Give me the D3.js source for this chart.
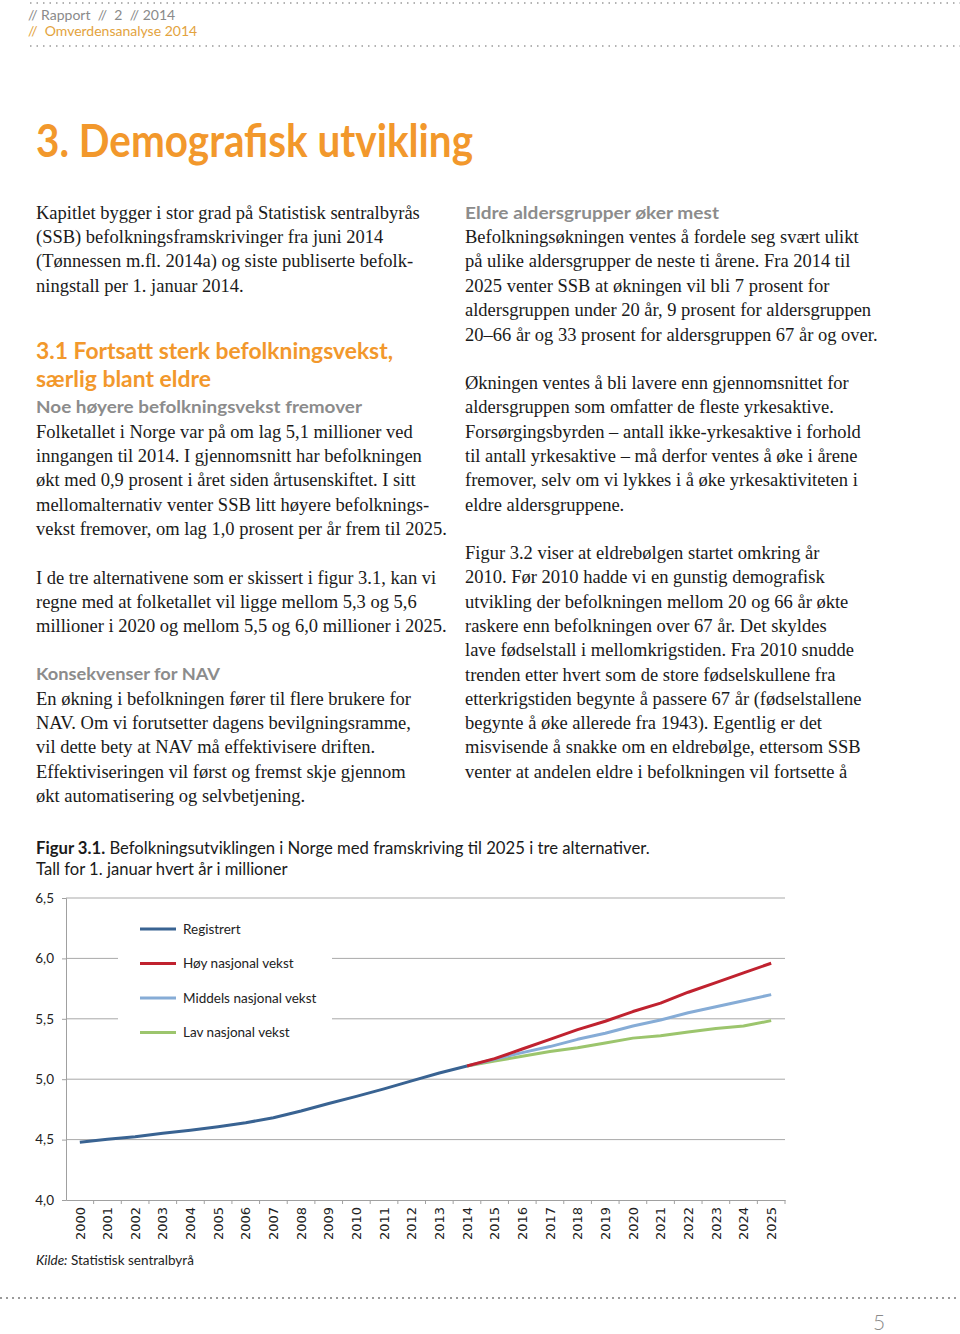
<!DOCTYPE html>
<html><head><meta charset="utf-8">
<script src="https://cdn.jsdelivr.net/npm/d3@7"></script>
<style>
html,body{margin:0;padding:0;background:#fff;}
svg{display:block;}
text{white-space:pre;}
</style></head>
<body>
<script>
// ---------- DATA ----------
const years = ["2000","2001","2002","2003","2004","2005","2006","2007","2008","2009","2010","2011","2012",
  "2013","2014","2015","2016","2017","2018","2019","2020","2021","2022","2023","2024","2025"];
const registrertYears = years.slice(0, 15);            // 2000–2014
const projYears = years.slice(14);                     // 2014–2025
const registrert = [4.478,4.503,4.524,4.552,4.577,4.606,4.640,4.681,4.737,4.799,4.858,4.920,4.986,5.051,5.109];
const hoy     = [5.109,5.170,5.250,5.330,5.410,5.480,5.560,5.630,5.720,5.800,5.880,5.960];
const middels = [5.109,5.165,5.220,5.270,5.330,5.380,5.440,5.490,5.550,5.600,5.650,5.700];
const lav     = [5.109,5.150,5.190,5.230,5.260,5.300,5.340,5.360,5.390,5.420,5.440,5.485];
const yTicks = [4.0,4.5,5.0,5.5,6.0,6.5];
const seriesNames = ["Registrert","Høy nasjonal vekst","Middels nasjonal vekst","Lav nasjonal vekst"];
const seriesColors = ["#396392","#c0222f","#86acd6","#9cc56d"];

const W = 960, H = 1334;
const svg = d3.select("body").append("svg").attr("width", W).attr("height", H);

// ---------- helpers ----------
function line(txt, x, y, o) {
  o = o || {};
  const t = svg.append("text").attr("x", x).attr("y", y)
    .attr("font-family", o.family || "'Liberation Serif', 'Times New Roman', serif")
    .attr("font-size", o.size || 18.5)
    .attr("font-weight", o.weight || "normal")
    .attr("fill", o.fill || "#1a1a1a")
    .text(txt);
  if (o.len) t.attr("textLength", o.len).attr("lengthAdjust", "spacingAndGlyphs");
  return t;
}
function dots(y, x1, x2, dash, w) {
  svg.append("line").attr("x1", x1).attr("x2", x2).attr("y1", y).attr("y2", y)
    .attr("stroke", "#9a9a9a").attr("stroke-width", w || 2).attr("stroke-dasharray", dash || "2,4");
}

// ---------- header ----------
dots(3, 30, 960, "1.5,5", 1.5);
dots(46, 30, 960, "1.5,5", 1.5);
line("// Rapport  //  2  // 2014", 28, 20, {family:"Lato, sans-serif", size:14, fill:"#8a8a8a"});
line("//  Omverdensanalyse 2014", 28, 36, {family:"Lato, sans-serif", size:14, fill:"#e3a33d"});

// ---------- title ----------
line("3. Demografisk utvikling", 36, 157, {family:"Lato, sans-serif", size:46, weight:"bold", fill:"#f2982c", len:437});

// ---------- left column ----------
const bodyL = [
  ["Kapitlet bygger i stor grad på Statistisk sentralbyrås",219],
  ["(SSB) befolkningsframskrivinger fra juni 2014",243],
  ["(Tønnessen m.fl. 2014a) og siste publiserte befolk-",267],
  ["ningstall per 1. januar 2014.",292],
  ["Folketallet i Norge var på om lag 5,1 millioner ved",438],
  ["inngangen til 2014. I gjennomsnitt har befolkningen",462],
  ["økt med 0,9 prosent i året siden årtusenskiftet. I sitt",486],
  ["mellomalternativ venter SSB litt høyere befolknings-",511],
  ["vekst fremover, om lag 1,0 prosent per år frem til 2025.",535],
  ["I de tre alternativene som er skissert i figur 3.1, kan vi",584],
  ["regne med at folketallet vil ligge mellom 5,3 og 5,6",608],
  ["millioner i 2020 og mellom 5,5 og 6,0 millioner i 2025.",632],
  ["En økning i befolkningen fører til flere brukere for",705],
  ["NAV. Om vi forutsetter dagens bevilgningsramme,",729],
  ["vil dette bety at NAV må effektivisere driften.",753],
  ["Effektiviseringen vil først og fremst skje gjennom",778],
  ["økt automatisering og selvbetjening.",802]
];
bodyL.forEach(d => line(d[0], 36, d[1]));
line("3.1 Fortsatt sterk befolkningsvekst,", 36, 359, {family:"Lato, sans-serif", size:22, weight:"bold", fill:"#f2982c", len:357});
line("særlig blant eldre", 36, 387, {family:"Lato, sans-serif", size:22, weight:"bold", fill:"#f2982c", len:175});
line("Noe høyere befolkningsvekst fremover", 36, 413, {family:"Lato, sans-serif", size:17.5, weight:"bold", fill:"#8c8c8c", len:326});
line("Konsekvenser for NAV", 36, 680, {family:"Lato, sans-serif", size:17.5, weight:"bold", fill:"#8c8c8c", len:184});

// ---------- right column ----------
const bodyR = [
  ["Befolkningsøkningen ventes å fordele seg svært ulikt",243],
  ["på ulike aldersgrupper de neste ti årene. Fra 2014 til",267],
  ["2025 venter SSB at økningen vil bli 7 prosent for",292],
  ["aldersgruppen under 20 år, 9 prosent for aldersgruppen",316],
  ["20–66 år og 33 prosent for aldersgruppen 67 år og over.",341],
  ["Økningen ventes å bli lavere enn gjennomsnittet for",389],
  ["aldersgruppen som omfatter de fleste yrkesaktive.",413],
  ["Forsørgingsbyrden – antall ikke-yrkesaktive i forhold",438],
  ["til antall yrkesaktive – må derfor ventes å øke i årene",462],
  ["fremover, selv om vi lykkes i å øke yrkesaktiviteten i",486],
  ["eldre aldersgruppene.",511],
  ["Figur 3.2 viser at eldrebølgen startet omkring år",559],
  ["2010. Før 2010 hadde vi en gunstig demografisk",583],
  ["utvikling der befolkningen mellom 20 og 66 år økte",608],
  ["raskere enn befolkningen over 67 år. Det skyldes",632],
  ["lave fødselstall i mellomkrigstiden. Fra 2010 snudde",656],
  ["trenden etter hvert som de store fødselskullene fra",681],
  ["etterkrigstiden begynte å passere 67 år (fødselstallene",705],
  ["begynte å øke allerede fra 1943). Egentlig er det",729],
  ["misvisende å snakke om en eldrebølge, ettersom SSB",753],
  ["venter at andelen eldre i befolkningen vil fortsette å",778]
];
bodyR.forEach(d => line(d[0], 465, d[1]));
line("Eldre aldersgrupper øker mest", 465, 219, {family:"Lato, sans-serif", size:17.5, weight:"bold", fill:"#8c8c8c", len:254});

// ---------- figure caption ----------
const cap = svg.append("text").attr("x", 36).attr("y", 854)
  .attr("font-family", "Lato, sans-serif").attr("font-size", 16.7).attr("fill", "#1a1a1a");
cap.append("tspan").attr("font-weight", "bold").text("Figur 3.1.");
cap.append("tspan").text(" Befolkningsutviklingen i Norge med framskriving til 2025 i tre alternativer.");
line("Tall for 1. januar hvert år i millioner", 36, 875, {family:"Lato, sans-serif", size:16.6});

// ---------- chart ----------
const x = d3.scaleBand().domain(years).range([66, 785]);
const y = d3.scaleLinear().domain([4, 6.5]).range([1200, 898]);
const loc = d3.formatLocale({decimal:",", thousands:" ", grouping:[3], currency:["","kr"]});
const fmt = loc.format(".1f");
const cx = d => x(d) + x.bandwidth() / 2;

const g = svg.append("g");
// gridlines
g.selectAll(".grid").data(yTicks.slice(1)).join("line")
  .attr("x1", x.range()[0]).attr("x2", x.range()[1])
  .attr("y1", d => y(d)).attr("y2", d => y(d))
  .attr("stroke", "#a9a9a9").attr("stroke-width", 1);

// y axis
const yAxis = g.append("g").attr("transform", `translate(${x.range()[0]},0)`)
  .call(d3.axisLeft(y).tickValues(yTicks).tickFormat(fmt).tickSize(4).tickPadding(8));
yAxis.select(".domain").attr("stroke", "#a0a0a0");
yAxis.selectAll(".tick line").attr("stroke", "#a0a0a0");
yAxis.selectAll("text").attr("font-family", "Lato, sans-serif").attr("font-size", 13.5).attr("fill", "#222");

// x axis
const xAxis = g.append("g").attr("transform", `translate(0,${y(4)})`)
  .call(d3.axisBottom(x).tickSize(0).tickSizeOuter(0));
xAxis.select(".domain").attr("stroke", "#a0a0a0");
xAxis.selectAll("text")
  .attr("transform", "rotate(-90)").attr("text-anchor", "end")
  .attr("x", -7).attr("y", 0).attr("dy", "0.36em")
  .attr("font-family", "'DejaVu Sans', Verdana, sans-serif").attr("font-size", 13).attr("fill", "#222");
xAxis.selectAll(".bnd").data(years.slice(1).concat(["end"])).join("line")
  .attr("x1", (d, i) => x(years[0]) + (i + 1) * x.step())
  .attr("x2", (d, i) => x(years[0]) + (i + 1) * x.step())
  .attr("y1", 0).attr("y2", 4).attr("stroke", "#a0a0a0");

// legend background
const lg = g.append("g");
lg.append("rect").attr("x", 118).attr("y", 906).attr("width", 214).attr("height", 144).attr("fill", "#fff");

// series lines
const lineGen = d3.line().x(d => cx(d[0])).y(d => y(d[1]));
const seriesData = [
  d3.zip(registrertYears, registrert),
  d3.zip(projYears, hoy),
  d3.zip(projYears, middels),
  d3.zip(projYears, lav)
];
[3, 2, 1, 0].forEach(i => {
  g.append("path").datum(seriesData[i]).attr("d", lineGen)
    .attr("fill", "none").attr("stroke", seriesColors[i]).attr("stroke-width", 3)
    .attr("stroke-linejoin", "round").attr("stroke-linecap", "butt");
});

// legend items
const legRows = [929, 963.5, 998, 1032.5];
seriesNames.forEach((n, i) => {
  lg.append("line").attr("x1", 140).attr("x2", 176).attr("y1", legRows[i]).attr("y2", legRows[i])
    .attr("stroke", seriesColors[i]).attr("stroke-width", 3);
  lg.append("text").attr("x", 183).attr("y", legRows[i]).attr("dy", "0.35em")
    .attr("font-family", "Lato, sans-serif").attr("font-size", 13.5).attr("fill", "#222").text(n);
});

// source
const src = svg.append("text").attr("x", 36).attr("y", 1265)
  .attr("font-family", "Lato, sans-serif").attr("font-size", 13.5).attr("fill", "#222");
src.append("tspan").attr("font-style", "italic").text("Kilde:");
src.append("tspan").text(" Statistisk sentralbyrå");

// ---------- footer ----------
dots(1298, 0, 960, "2,4");
line("5", 873, 1330, {family:"Lato, sans-serif", size:21, weight:"300", fill:"#8a8a8a"});
</script>
</body></html>
